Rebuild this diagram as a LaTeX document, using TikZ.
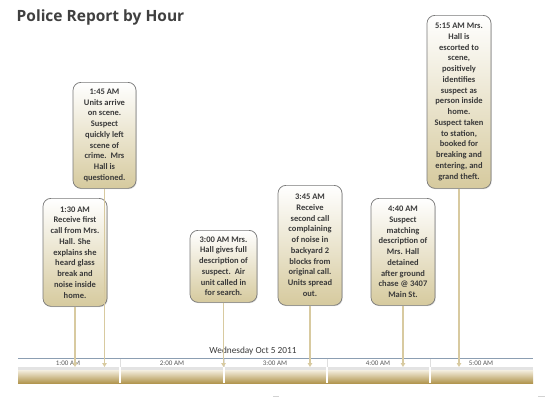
\documentclass[tikz,border=0pt]{standalone}
\usepackage{fontspec}
\setmainfont{Carlito}
\newfontfamily\titlefont{Open Sans}
\usetikzlibrary{arrows.meta,shadows}
\definecolor{txtdark}{RGB}{58,58,58}
\definecolor{titlegray}{RGB}{64,64,64}
\definecolor{tanline}{RGB}{216,202,160}
\definecolor{boxbot}{RGB}{214,202,158}
\definecolor{boxborder}{RGB}{120,120,120}
\definecolor{goldtop}{RGB}{244,239,224}
\definecolor{goldbot}{RGB}{178,150,80}
\definecolor{axisblue}{RGB}{140,158,178}
\definecolor{hourgray}{RGB}{90,90,90}
\tikzset{
  eventbox/.style={draw=boxborder, line width=0.7pt, rounded corners=8pt,
    top color=white, bottom color=boxbot, anchor=north, align=center,
    inner xsep=2pt, inner ysep=0pt, text=txtdark,
    font=\bfseries\fontsize{8.5}{10.75}\selectfont,
    drop shadow={shadow xshift=0.8pt, shadow yshift=-0.8pt, opacity=0.25}},
  connector/.style={draw=tanline, line width=1.1pt,
    -{Triangle[width=4.5pt,length=4pt]}},
  hourlabel/.style={text=hourgray, font=\fontsize{7}{8}\selectfont, inner sep=0pt},
  sepline/.style={draw=white, line width=1.6pt}
}
\begin{document}
\begin{tikzpicture}[x=1pt,y=-1pt]
\useasboundingbox (0,0) rectangle (550,399);
\fill[white] (0,0) rectangle (550,399);

\node[anchor=west, inner sep=0pt, text=titlegray, font=\titlefont\bfseries\fontsize{15.5}{18}\selectfont] (title) at (16.5,17) {Police Report by Hour};

% timeline
\fill[gray!22] (18,367) rectangle (533,370);
\shade[top color=goldtop, bottom color=goldbot] (18,370) rectangle (533,383);
\draw[axisblue, line width=0.9pt] (18,358) -- (533,358);
\foreach \xx in {120,224,327,430}{
  \draw[gray!25, line width=0.6pt] (\xx,358.5) -- (\xx,367);
  \draw[sepline] (\xx,367) -- (\xx,383);
}
\node[hourlabel] (h1) at (68,363) {1:00 AM};
\node[hourlabel] (h2) at (172,363) {2:00 AM};
\node[hourlabel] (h3) at (275,363) {3:00 AM};
\node[hourlabel] (h4) at (378,363) {4:00 AM};
\node[hourlabel] (h5) at (481,363) {5:00 AM};
\node[text=txtdark, font=\fontsize{9.3}{11}\selectfont, inner sep=0pt] (date) at (253,351.5) {Wednesday Oct 5 2011};

% events
\node[eventbox, minimum width=64pt, minimum height=108pt] (b130) at (75,198)
 {1:30 AM\\Receive first\\call from Mrs.\\Hall. She\\explains she\\heard glass\\break and\\noise inside\\home.};
\node[eventbox, minimum width=63pt, minimum height=106pt] (b145) at (104.5,82)
 {1:45 AM\\Units arrive\\on scene.\\Suspect\\quickly left\\scene of\\crime.\ \ Mrs\\Hall is\\questioned.};
\node[eventbox, minimum width=67pt, minimum height=72pt] (b300) at (223.5,230)
 {3:00 AM Mrs.\\Hall gives full\\description of\\suspect.\ \ Air\\unit called in\\for search.};
\node[eventbox, minimum width=64pt, minimum height=120pt] (b345) at (310,185)
 {3:45 AM\\Receive\\second call\\complaining\\of noise in\\backyard 2\\blocks from\\original call.\\Units spread\\out.};
\node[eventbox, minimum width=64pt, minimum height=107pt] (b440) at (403,198)
 {4:40 AM\\Suspect\\matching\\description of\\Mrs. Hall\\detained\\after ground\\chase @ 3407\\Main St.};
\node[eventbox, minimum width=64pt, minimum height=173pt] (b515) at (459,15)
 {5:15 AM Mrs.\\Hall is\\escorted to\\scene,\\positively\\identifies\\suspect as\\person inside\\home.\\Suspect taken\\to station,\\booked for\\breaking and\\entering, and\\grand theft.};

% connector ends
\coordinate (t130) at (75,367);
\coordinate (t145) at (104.5,367);
\coordinate (t300) at (223.5,367);
\coordinate (t345) at (310,367);
\coordinate (t440) at (403,367);
\coordinate (t515) at (459,367);
\foreach \e in {130,145,300,345,440,515}{
  \draw[connector] (b\e.south) -- (t\e);
}

% small marks at bottom
\draw[gray!35, line width=0.8pt] (273,396) -- (279,396);
\draw[gray!35, line width=0.8pt] (538,396) -- (545,396);
\end{tikzpicture}
\end{document}
